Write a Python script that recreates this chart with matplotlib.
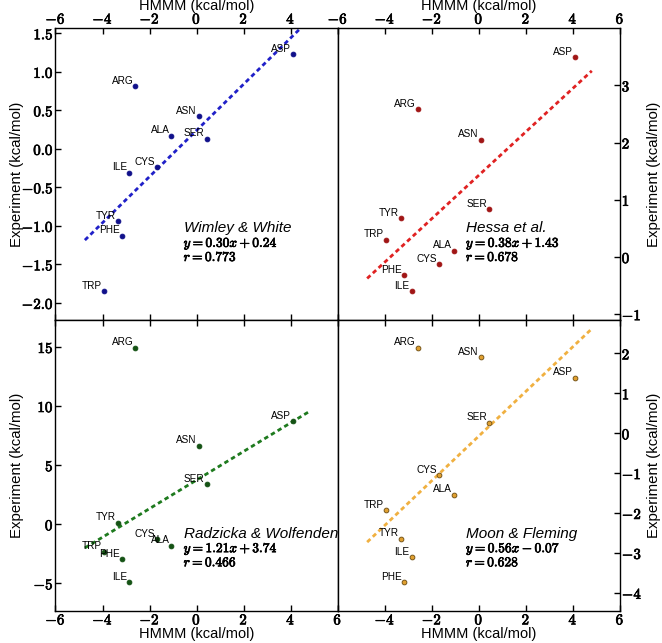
import numpy as np
import matplotlib
matplotlib.use("Agg")
import matplotlib.pyplot as plt
import matplotlib.patheffects as pe
from matplotlib.ticker import FixedLocator, FixedFormatter

plt.rcParams['font.family'] = ['Liberation Sans', 'DejaVu Sans']
plt.rcParams['mathtext.fontset'] = 'cm'

residues = ['ALA', 'ARG', 'ASN', 'ASP', 'CYS', 'ILE', 'PHE', 'SER', 'TRP', 'TYR']
hmmm = [-1.07, -2.60, 0.09, 4.08, -1.68, -2.86, -3.18, 0.43, -3.95, -3.33]

wimley_white = [0.17, 0.81, 0.42, 1.23, -0.24, -0.31, -1.13, 0.13, -1.85, -0.94]
hessa = [0.11, 2.58, 2.05, 3.49, -0.13, -0.60, -0.32, 0.84, 0.30, 0.68]
radzicka = [-1.81, 14.92, 6.64, 8.72, -1.28, -4.92, -2.98, 3.40, -2.33, 0.14]
moon_fleming = [-1.54, 2.14, 1.91, 1.39, -1.06, -3.11, -3.74, 0.26, -1.93, -2.65]

names = ['Wimley & White', 'Hessa et al.', 'Radzicka & Wolfenden', 'Moon & Fleming']
slopes = [0.30, 0.38, 1.21, 0.56]
intercepts = [0.24, 1.43, 3.74, -0.07]
r_values = [0.773, 0.678, 0.466, 0.628]
eq_text = [r'$y = 0.30x + 0.24$', r'$y = 0.38x + 1.43$',
           r'$y = 1.21x + 3.74$', r'$y = 0.56x - 0.07$']
r_text = [r'$r = 0.773$', r'$r = 0.678$', r'$r = 0.466$', r'$r = 0.628$']

line_colors = ['#2020c8', '#e02222', '#1e7a1e', '#f0b040']
marker_colors = ['#10108a', '#a01515', '#145214', '#e0a030']
marker_edges = ['#10108a', '#a01515', '#145214', '#6a4a10']

ylims = [(-2.216, 1.565), (-1.093, 3.998), (-7.32, 17.32), (-4.45, 2.85)]
yticks = [[-2.0, -1.5, -1.0, -0.5, 0.0, 0.5, 1.0, 1.5],
          [-1, 0, 1, 2, 3],
          [-5, 0, 5, 10, 15],
          [-4, -3, -2, -1, 0, 1, 2]]
yfmt = ['%.1f', '%d', '%d', '%d']
xticks = [-6, -4, -2, 0, 2, 4, 6]
data = [wimley_white, hessa, radzicka, moon_fleming]

fig = plt.figure(figsize=(6.62, 6.43), dpi=100)
gs = fig.add_gridspec(2, 2, left=0.0838, right=0.9366, bottom=0.0502, top=0.956,
                      hspace=0, wspace=0)

line_x = np.array([-4.75, 4.8])
heavy = [pe.withStroke(linewidth=0.5, foreground='black')]

for i in range(4):
    row, col = divmod(i, 2)
    ax = fig.add_subplot(gs[row, col])
    ax.set_xlim(-6, 6)
    ax.set_ylim(*ylims[i])
    ax.plot(line_x, slopes[i] * line_x + intercepts[i], color=line_colors[i],
            lw=2, dashes=(1.6, 1.2), zorder=1)
    ax.scatter(hmmm, data[i], s=12, c=marker_colors[i],
               edgecolors=marker_edges[i], linewidths=0.6, zorder=3)
    for name, x, y in zip(residues, hmmm, data[i]):
        ax.annotate(name, (x, y), xytext=(-1.5, 0.3), textcoords='offset points',
                    ha='right', va='bottom', fontsize=7.2)
    ty = 0.299 if row == 0 else 0.2505
    ax.text(0.454, ty, names[i], transform=ax.transAxes, fontsize=11,
            style='italic', va='baseline', ha='left')
    ax.text(0.454, ty - 0.0495, eq_text[i], transform=ax.transAxes, fontsize=9.7,
            va='baseline', ha='left', path_effects=heavy)
    ax.text(0.454, ty - 0.098, r_text[i], transform=ax.transAxes, fontsize=9.7,
            va='baseline', ha='left', path_effects=heavy)

    # x ticks
    ax.xaxis.set_major_locator(FixedLocator(xticks))
    xl = ['$%d$' % v for v in xticks]
    if row == 0 and col == 0:
        xl[-1] = ''
    if row == 1 and col == 1:
        xl[0] = ''
    ax.xaxis.set_major_formatter(FixedFormatter(xl))
    if row == 0:
        ax.tick_params(axis='x', top=True, bottom=True, labeltop=True,
                       labelbottom=False, direction='in')
        ax.xaxis.set_label_position('top')
    else:
        ax.tick_params(axis='x', top=True, bottom=True, labeltop=False,
                       labelbottom=True, direction='in')
    ax.set_xlabel('HMMM (kcal/mol)', fontsize=10.5)
    ax.xaxis.label.set_verticalalignment('center')
    ax.xaxis.set_label_coords(0.5, 1.077 if row == 0 else -0.080)

    # y ticks
    ax.yaxis.set_major_locator(FixedLocator(yticks[i]))
    ax.yaxis.set_major_formatter(FixedFormatter(['$%s$' % (yfmt[i] % v) for v in yticks[i]]))
    if col == 0:
        ax.tick_params(axis='y', left=True, right=False, labelleft=True,
                       labelright=False, direction='in')
    else:
        ax.tick_params(axis='y', left=False, right=True, labelleft=False,
                       labelright=True, direction='in')
        ax.yaxis.set_label_position('right')
    ax.set_ylabel('Experiment (kcal/mol)', fontsize=10.8)
    ax.yaxis.label.set_verticalalignment('center')
    ax.yaxis.set_label_coords(-0.135 if col == 0 else 1.12, 0.5)
    ax.tick_params(labelsize=10.8, length=4, width=1, pad=1.2)
    for lab in ax.get_xticklabels() + ax.get_yticklabels():
        lab.set_path_effects(heavy)
    for sp in ax.spines.values():
        sp.set_linewidth(1.0)

fig.savefig('out.png', dpi=100)
